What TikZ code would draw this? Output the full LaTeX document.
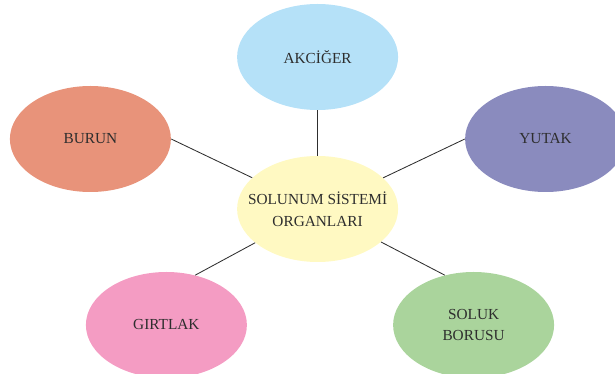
\documentclass[tikz,border=0pt]{standalone}
\usepackage{fontspec}
\setmainfont{Liberation Serif}
\usetikzlibrary{shapes.geometric}

\definecolor{akcol}{HTML}{B5E1F8}
\definecolor{orcol}{HTML}{FFF9C2}
\definecolor{bucol}{HTML}{E8937A}
\definecolor{yucol}{HTML}{8A8BBE}
\definecolor{gicol}{HTML}{F49CC3}
\definecolor{socol}{HTML}{AAD49C}
\definecolor{txcol}{HTML}{2E2E2E}

\begin{document}
\begin{tikzpicture}[organbox/.style={ellipse,minimum width=4.025cm,minimum height=2.65cm,inner sep=0pt,
      align=center,text=txcol,font=\fontsize{10.9}{15.5}\selectfont},
   link/.style={draw=txcol,line width=0.6pt}]

   \useasboundingbox (0,0) rectangle (15.375,9.35);
   \clip (0,0) rectangle (15.375,9.35);

   % Nodes
      \node[organbox,fill=orcol,inner xsep=-0.6cm] (organ) at (7.94,4.125)  {SOLUNUM SİSTEMİ\\ORGANLARI};
      \node[organbox,fill=akcol]   (akciger) at (7.94,7.925)  {AKCİĞER};
      \node[organbox,fill=bucol]   (burun)   at (2.26,5.875)  {BURUN};
      \node[organbox,fill=yucol]   (yutak)   at (13.64,5.875) {YUTAK};
      \node[organbox,fill=gicol]   (girtlak) at (4.16,1.225)  {GIRTLAK};
      \node[organbox,fill=socol]   (soluk)   at (11.84,1.225) {SOLUK\\BORUSU};

   % Paths
      \path (akciger) edge[link] (organ);
      \path (burun.east) edge[link] (organ);
      \path (yutak.west) edge[link] (organ);
      \path (girtlak.60) edge[link] (organ);
      \path (soluk.120) edge[link] (organ);
   \end{tikzpicture}
\end{document}
